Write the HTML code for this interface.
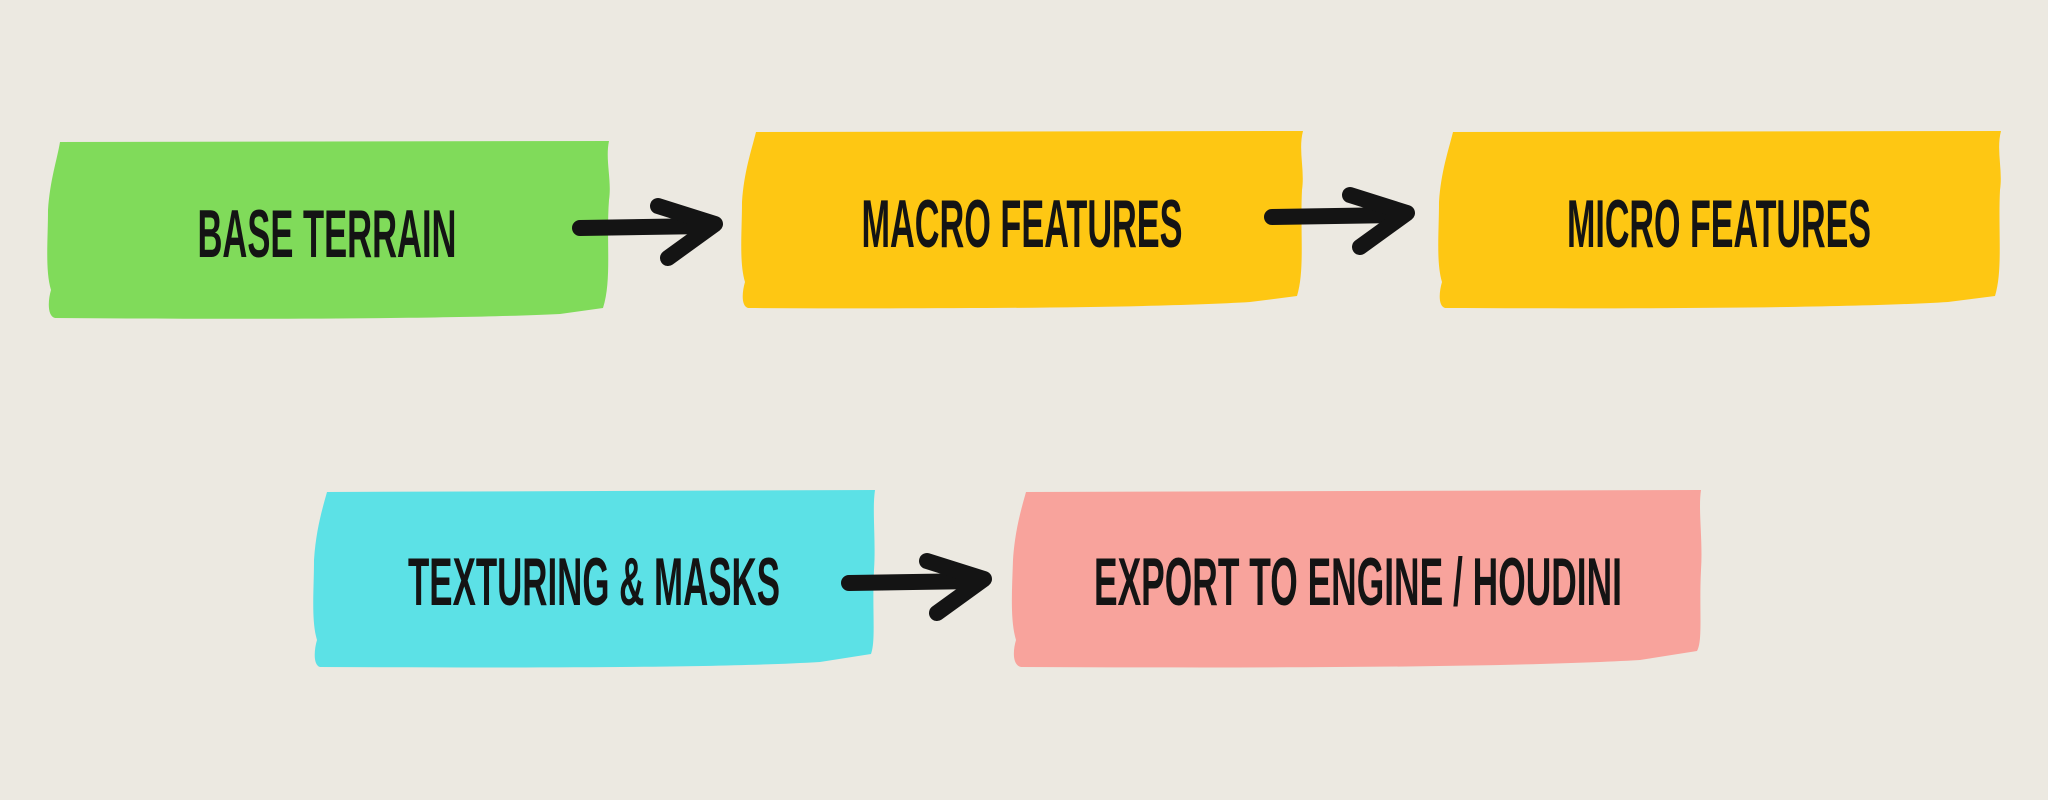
<!DOCTYPE html>
<html><head><meta charset="utf-8"><style>
html,body{margin:0;padding:0;background:#ece9e1;}
svg{display:block}
text{font-family:"Liberation Sans Narrow","Liberation Sans",sans-serif;font-size:68px;font-weight:bold;fill:#141414;text-anchor:middle;}
</style></head><body>
<svg width="2048" height="800" viewBox="0 0 2048 800" xmlns="http://www.w3.org/2000/svg">
<rect width="2048" height="800" fill="#ece9e1"/>
<defs>
<g id="arr">
<path d="M0,0 L128,-2" stroke="#141414" stroke-width="16" stroke-linecap="round" fill="none"/>
<path d="M78,-22 L135,-4 L88,30" stroke="#141414" stroke-width="16" stroke-linecap="round" stroke-linejoin="round" fill="none"/>
</g>
</defs>
<path d="M60,142 L609,141 C605,160 612,180 609,200 C606,240 612,280 603,308 L560,314 C480,318 300,320 55,318 C47,316 48,300 51,290 C45,270 48,240 48,210 C50,180 57,160 60,142 Z" fill="#80db5a"/>
<path d="M756,132 L1303,131 C1298,150 1305,170 1302,190 C1300,230 1305,270 1297,296 L1250,302 C1150,308 950,309 748,308 C741,306 742,292 745,282 C739,262 742,232 742,202 C744,172 751,152 756,132 Z" fill="#fec713"/>
<path d="M1453,132 L2001,131 C1996,150 2003,170 2000,190 C1998,230 2003,270 1995,296 L1948,302 C1850,308 1650,309 1445,308 C1438,306 1439,292 1442,282 C1436,262 1439,232 1439,202 C1441,172 1448,152 1453,132 Z" fill="#fec713"/>
<path d="M327,492 L875,490 C872,510 876,540 874,570 C872,610 876,640 871,654 L820,662 C720,668 520,668 320,667 C313,665 314,650 317,640 C311,620 314,590 314,560 C316,530 322,510 327,492 Z" fill="#5ce1e6"/>
<path d="M1026,492 L1701,490 C1698,510 1703,540 1701,570 C1699,610 1703,640 1697,651 L1640,660 C1500,668 1250,668 1021,667 C1012,665 1013,650 1016,640 C1010,620 1012,590 1013,560 C1015,530 1021,510 1026,492 Z" fill="#f8a39c"/>
<text x="327" y="257" textLength="259" lengthAdjust="spacingAndGlyphs">BASE TERRAIN</text>
<text x="1022" y="247" textLength="321" lengthAdjust="spacingAndGlyphs">MACRO FEATURES</text>
<text x="1719" y="247" textLength="304" lengthAdjust="spacingAndGlyphs">MICRO FEATURES</text>
<text x="594" y="605" textLength="372" lengthAdjust="spacingAndGlyphs">TEXTURING &amp; MASKS</text>
<text x="1358" y="605" textLength="528" lengthAdjust="spacingAndGlyphs">EXPORT TO ENGINE / HOUDINI</text>
<use href="#arr" x="580" y="228"/>
<use href="#arr" x="1272" y="217"/>
<use href="#arr" x="849" y="583"/>
</svg>
</body></html>
